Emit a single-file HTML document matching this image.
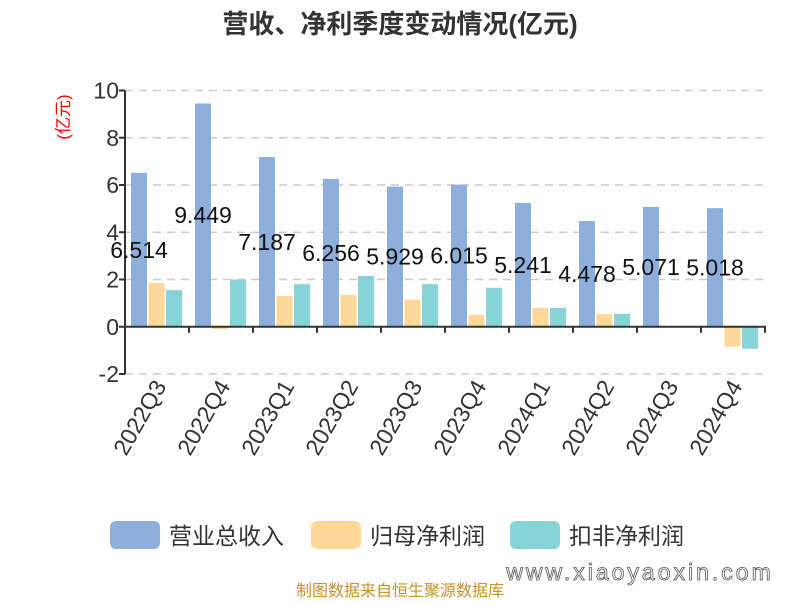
<!DOCTYPE html>
<html><head><meta charset="utf-8"><style>
body{margin:0;background:#fff;width:800px;height:600px;overflow:hidden;font-family:"Liberation Sans","Noto Sans CJK SC",sans-serif;}
svg text{font-family:"Liberation Sans","Noto Sans CJK SC",sans-serif;}
</style></head><body>
<svg id="chart" width="800" height="600">
<text x="400" y="33" text-anchor="middle" font-size="26" font-weight="bold" fill="#333">营收、净利季度变动情况(亿元)</text>
<text transform="translate(69,117) rotate(-90)" text-anchor="middle" font-size="17" fill="#f00">(亿元)</text>
<g id="grid"></g><g id="bars"></g><g id="axes"></g><g id="labels"></g>
<g>
<rect x="110" y="521" width="50" height="28" rx="6" fill="#8eaedb"/>
<text x="169" y="544" font-size="23" fill="#333">营业总收入</text>
<rect x="311" y="521" width="50" height="28" rx="6" fill="#fed898"/>
<text x="370" y="544" font-size="23" fill="#333">归母净利润</text>
<rect x="510" y="521" width="50" height="28" rx="6" fill="#86d4d8"/>
<text x="569" y="544" font-size="23" fill="#333">扣非净利润</text>
</g>
<text x="640" y="580" text-anchor="middle" font-size="23" fill="#fff" stroke="#555" stroke-width="0.8" letter-spacing="3">www.xiaoyaoxin.com</text>
<text x="400" y="596" text-anchor="middle" font-size="16" fill="#c8922a">制图数据来自恒生聚源数据库</text>
</svg>
<script>
const categories=["2022Q3","2022Q4","2023Q1","2023Q2","2023Q3","2023Q4","2024Q1","2024Q2","2024Q3","2024Q4"];
const revenue=[6.514,9.449,7.187,6.256,5.929,6.015,5.241,4.478,5.071,5.018];
const netProfit=[1.85,-0.1,1.3,1.35,1.15,0.5,0.8,0.55,0.02,-0.84];
const deductedProfit=[1.55,2.0,1.8,2.15,1.8,1.65,0.8,0.55,-0.03,-0.93];
const revenueLabels=["6.514","9.449","7.187","6.256","5.929","6.015","5.241","4.478","5.071","5.018"];
const yTicks=[-2,0,2,4,6,8,10];
const NS="http://www.w3.org/2000/svg";
const x0=125,bandW=64,yMin=-2,yMax=10,yTop=90.5,yBot=374;
function y(v){return yBot-(v-yMin)/(yMax-yMin)*(yBot-yTop);}
function bx(i){return x0+i*bandW;}
function mk(tag,attrs,parent){const e=document.createElementNS(NS,tag);for(const k in attrs)e.setAttribute(k,attrs[k]);document.getElementById(parent).appendChild(e);return e;}
yTicks.forEach(t=>{
  if(t!==0){const g=mk('line',{x1:x0,x2:768,y1:y(t),y2:y(t),stroke:'#ccc','stroke-width':1.5,'stroke-dasharray':'8,6'},'grid');
  
  }
  const tl=mk('text',{x:x0-6,y:y(t)+8,'text-anchor':'end','font-size':23,fill:'#333'},'axes');
  tl.textContent=t;
  
  
  const tk=mk('line',{x1:x0-6,x2:x0,y1:y(t),y2:y(t),stroke:'#333','stroke-width':2},'axes');
  
  
});
const series=[[revenue,'#8eaedb','bar-revenue'],[netProfit,'#fed898','bar-net-profit'],[deductedProfit,'#86d4d8','bar-deducted-profit']];
categories.forEach((c,i)=>{
  series.forEach((s,j)=>{
    const v=s[0][i];const top=Math.min(y(v),y(0));const h=Math.max(Math.abs(y(v)-y(0)),0.8);
    const r=mk('rect',{x:bx(i)+6+j*17.5,y:top,width:16,height:h,fill:s[1]},'bars');
    
    
  });
  const lb=mk('text',{x:bx(i)+14,y:y(revenue[i]/2)+8,'text-anchor':'middle','font-size':23,fill:'#111'},'labels');
  lb.textContent=revenueLabels[i];
  
  
  if(i>0){const tk=mk('line',{x1:bx(i),x2:bx(i),y1:y(0),y2:y(0)+6,stroke:'#333','stroke-width':2},'axes');
  
  }
  const xl=mk('text',{transform:`translate(${bx(i)+42},386) rotate(-60)`,'text-anchor':'end','font-size':23,fill:'#333'},'axes');
  xl.textContent=c;
  
  
});
const tkEnd=mk('line',{x1:x0+640,x2:x0+640,y1:y(0),y2:y(0)+6,stroke:'#333','stroke-width':2},'axes');


const ya=mk('line',{x1:x0,x2:x0,y1:yTop,y2:yBot,stroke:'#333','stroke-width':2},'axes');


const xa=mk('line',{x1:x0,x2:x0+641,y1:y(0),y2:y(0),stroke:'#333','stroke-width':2},'axes');


</script>
</body></html>
